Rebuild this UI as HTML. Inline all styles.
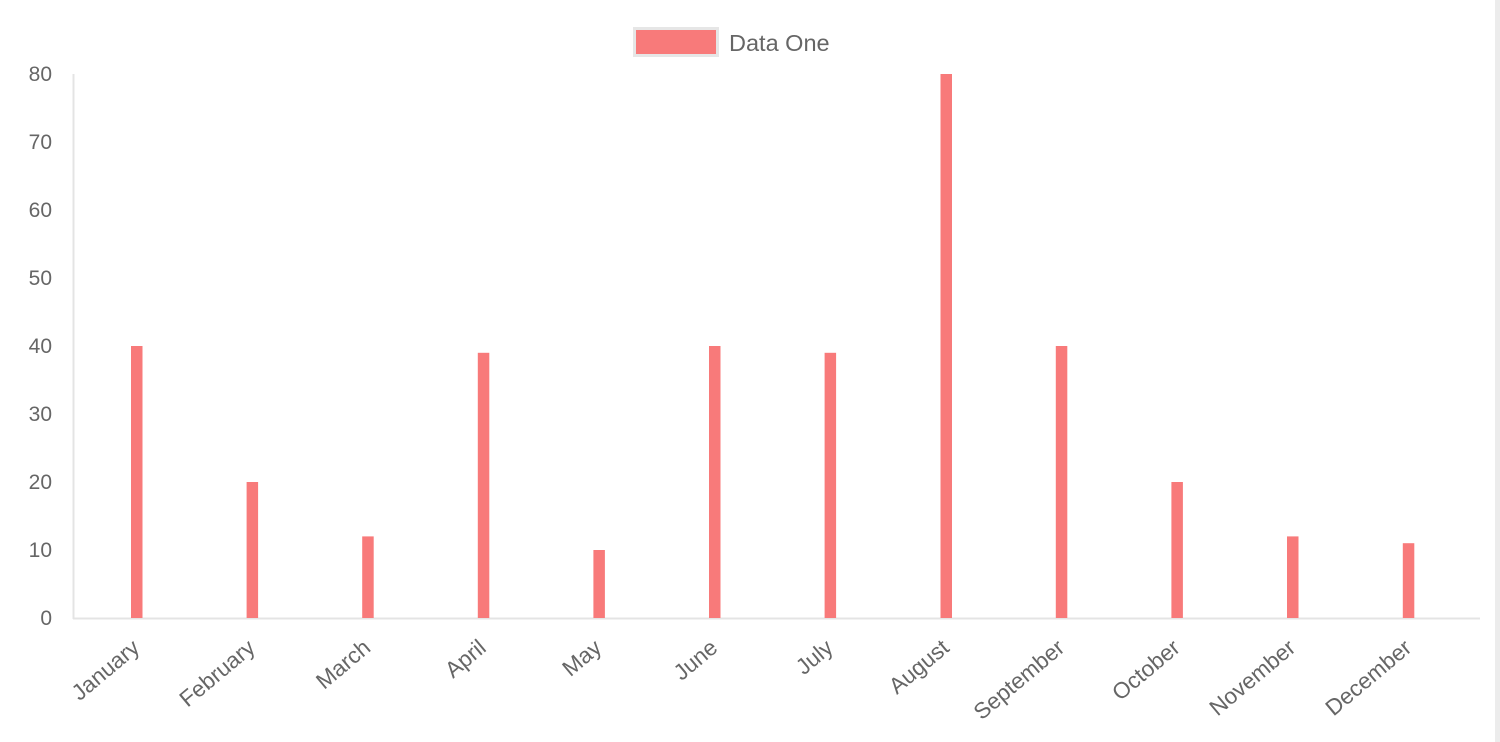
<!DOCTYPE html>
<html><head><meta charset="utf-8"><style>
html,body{margin:0;padding:0;background:#fff;}
svg{display:block;font-family:"Liberation Sans",Arial,sans-serif;}
</style></head><body>
<svg width="1500" height="742" viewBox="0 0 1500 742">
<rect x="1495" y="0" width="5" height="742" fill="#ececec"/>
<rect x="634.5" y="28.5" width="83" height="27" fill="#f87a7a" stroke="#e6e6e6" stroke-width="3"/>
<text x="729" y="51" font-size="23.5" fill="#666">Data One</text>
<line x1="73.5" y1="74" x2="73.5" y2="619" stroke="#e4e4e4" stroke-width="2"/>
<line x1="73" y1="618.5" x2="1480" y2="618.5" stroke="#e4e4e4" stroke-width="2"/>
<g font-size="21" fill="#666" text-anchor="end">
<text x="52" y="81">80</text><text x="52" y="149">70</text><text x="52" y="217">60</text><text x="52" y="285">50</text><text x="52" y="353">40</text><text x="52" y="421">30</text><text x="52" y="489">20</text><text x="52" y="557">10</text><text x="52" y="625">0</text>
</g>
<g fill="#f87a7a">
<rect x="131" y="346" width="11.5" height="272"/>
<rect x="246.6" y="482" width="11.5" height="136"/>
<rect x="362.2" y="536.4" width="11.5" height="81.6"/>
<rect x="477.8" y="352.8" width="11.5" height="265.2"/>
<rect x="593.4" y="550" width="11.5" height="68"/>
<rect x="709" y="346" width="11.5" height="272"/>
<rect x="824.6" y="352.8" width="11.5" height="265.2"/>
<rect x="940.5" y="74" width="11.5" height="544"/>
<rect x="1055.8" y="346" width="11.5" height="272"/>
<rect x="1171.4" y="482" width="11.5" height="136"/>
<rect x="1287" y="536.4" width="11.5" height="81.6"/>
<rect x="1402.8" y="543.2" width="11.5" height="74.8"/>
</g>
<g font-size="22.5" fill="#666" text-anchor="end">
<text transform="translate(141,650) rotate(-40)">January</text>
<text transform="translate(256.5,650) rotate(-40)">February</text>
<text transform="translate(372,650) rotate(-40)">March</text>
<text transform="translate(487.5,650) rotate(-40)">April</text>
<text transform="translate(603,650) rotate(-40)">May</text>
<text transform="translate(719,650) rotate(-40)">June</text>
<text transform="translate(834.5,650) rotate(-40)">July</text>
<text transform="translate(950.5,650) rotate(-40)">August</text>
<text transform="translate(1066,650) rotate(-40)">September</text>
<text transform="translate(1181.5,650) rotate(-40)">October</text>
<text transform="translate(1297,650) rotate(-40)">November</text>
<text transform="translate(1413,650) rotate(-40)">December</text>
</g>
</svg>
</body></html>
